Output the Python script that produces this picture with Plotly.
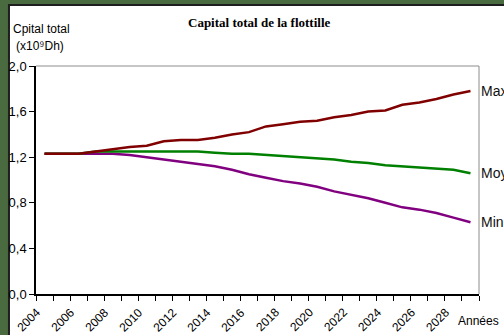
import plotly.graph_objects as go

# Projected total capital of the fleet, three scenarios
years = list(range(2004, 2030))
cap_max = [1.23, 1.23, 1.23, 1.25, 1.27, 1.29, 1.30, 1.34, 1.35, 1.35, 1.37, 1.40, 1.42,
           1.47, 1.49, 1.51, 1.52, 1.55, 1.57, 1.60, 1.61, 1.66, 1.68, 1.71, 1.75, 1.78]
cap_moy = [1.23, 1.23, 1.23, 1.25, 1.25, 1.25, 1.25, 1.25, 1.25, 1.25, 1.24, 1.23, 1.23,
           1.22, 1.21, 1.20, 1.19, 1.18, 1.16, 1.15, 1.13, 1.12, 1.11, 1.10, 1.09, 1.06]
cap_min = [1.23, 1.23, 1.23, 1.23, 1.23, 1.22, 1.20, 1.18, 1.16, 1.14, 1.12, 1.09, 1.05,
           1.02, 0.99, 0.97, 0.94, 0.90, 0.87, 0.84, 0.80, 0.76, 0.74, 0.71, 0.67, 0.63]

series = [("Min", cap_min, "#800080"), ("Moy", cap_moy, "#008000"), ("Max", cap_max, "#800000")]

label_years = list(range(2004, 2029, 2))
y_ticks = [0.0, 0.4, 0.8, 1.2, 1.6, 2.0]

SANS = "Liberation Sans, Arial, sans-serif"
PLOT_H = 228  # plot-area height in px, used to place text below the axis

fig = go.Figure()
for name, vals, color in series:
    fig.add_trace(go.Scatter(x=years, y=vals, mode="lines", name=name,
                             line=dict(color=color, width=2.5), showlegend=False))
    fig.add_annotation(x=1, xref="paper", y=vals[-1], yref="y", text=name,
                       showarrow=False, xanchor="left", yanchor="middle", xshift=0,
                       font=dict(family=SANS, size=14, color="#111111"))

# slanted year labels, one every two years, set under the category they name
for yr in label_years:
    fig.add_annotation(x=yr, xref="x", y=-25.5 / PLOT_H, yref="paper", text=str(yr),
                       textangle=-45, showarrow=False, xanchor="center", yanchor="middle",
                       xshift=-16, font=dict(family=SANS, size=12, color="black"))

shapes = [
    # white panel with dark edge on the green backdrop
    dict(type="rect", xref="paper", yref="paper", x0=-0.061, x1=1.2, y0=-0.25, y1=1.268,
         fillcolor="white", line=dict(color="#1e1e1e", width=2), layer="below"),
    # grey frame on top and right of the plot area
    dict(type="line", xref="paper", yref="paper", x0=0, x1=1, y0=1, y1=1,
         line=dict(color="#8c8c8c", width=1)),
    dict(type="line", xref="paper", yref="paper", x0=1, x1=1, y0=0, y1=1,
         line=dict(color="#8c8c8c", width=1)),
]

fig.add_annotation(text="<b>Capital total de la flottille</b>", xref="paper", yref="paper",
                   x=(259 - 36) / 443, y=(294 - 23) / PLOT_H, showarrow=False,
                   xanchor="center", yanchor="middle",
                   font=dict(family="Liberation Serif, Times New Roman, serif", size=13, color="black"))
fig.add_annotation(text="Cpital total", xref="paper", yref="paper",
                   x=(11 - 36) / 443, y=(294 - 29) / PLOT_H, showarrow=False,
                   xanchor="left", yanchor="middle",
                   font=dict(family=SANS, size=12, color="black"))
fig.add_annotation(text="(x10⁹Dh)", xref="paper", yref="paper",
                   x=(14 - 36) / 443, y=(294 - 46) / PLOT_H, showarrow=False,
                   xanchor="left", yanchor="middle",
                   font=dict(family=SANS, size=12, color="black"))
fig.add_annotation(text="Années", xref="paper", yref="paper",
                   x=(478 - 36) / 443, y=(294 - 321) / PLOT_H, showarrow=False,
                   xanchor="center", yanchor="middle",
                   font=dict(family=SANS, size=12, color="black"))

fig.update_layout(
    width=504, height=335,
    margin=dict(l=36, r=25, t=66, b=41),
    paper_bgcolor="#4a6a3f",
    plot_bgcolor="white",
    separators=", ",
    shapes=shapes,
    xaxis=dict(
        range=[2003.5, 2029.5], tickmode="array", tickvals=[y - 0.5 for y in years] + [2029.5],
        showticklabels=False, ticks="outside", ticklen=5, tickcolor="black", tickwidth=1,
        automargin=False,
        showgrid=False, zeroline=False, showline=True, linecolor="black", linewidth=1.5,
    ),
    yaxis=dict(
        range=[0, 2.0], tickmode="array", tickvals=y_ticks, tickformat=".1f",
        ticks="outside", ticklen=5, tickcolor="black", tickwidth=1, automargin=False,
        showgrid=False, zeroline=False, showline=True, linecolor="black", linewidth=1.5,
        tickfont=dict(family=SANS, size=13, color="black"),
    ),
)

fig.write_html("out.html")
